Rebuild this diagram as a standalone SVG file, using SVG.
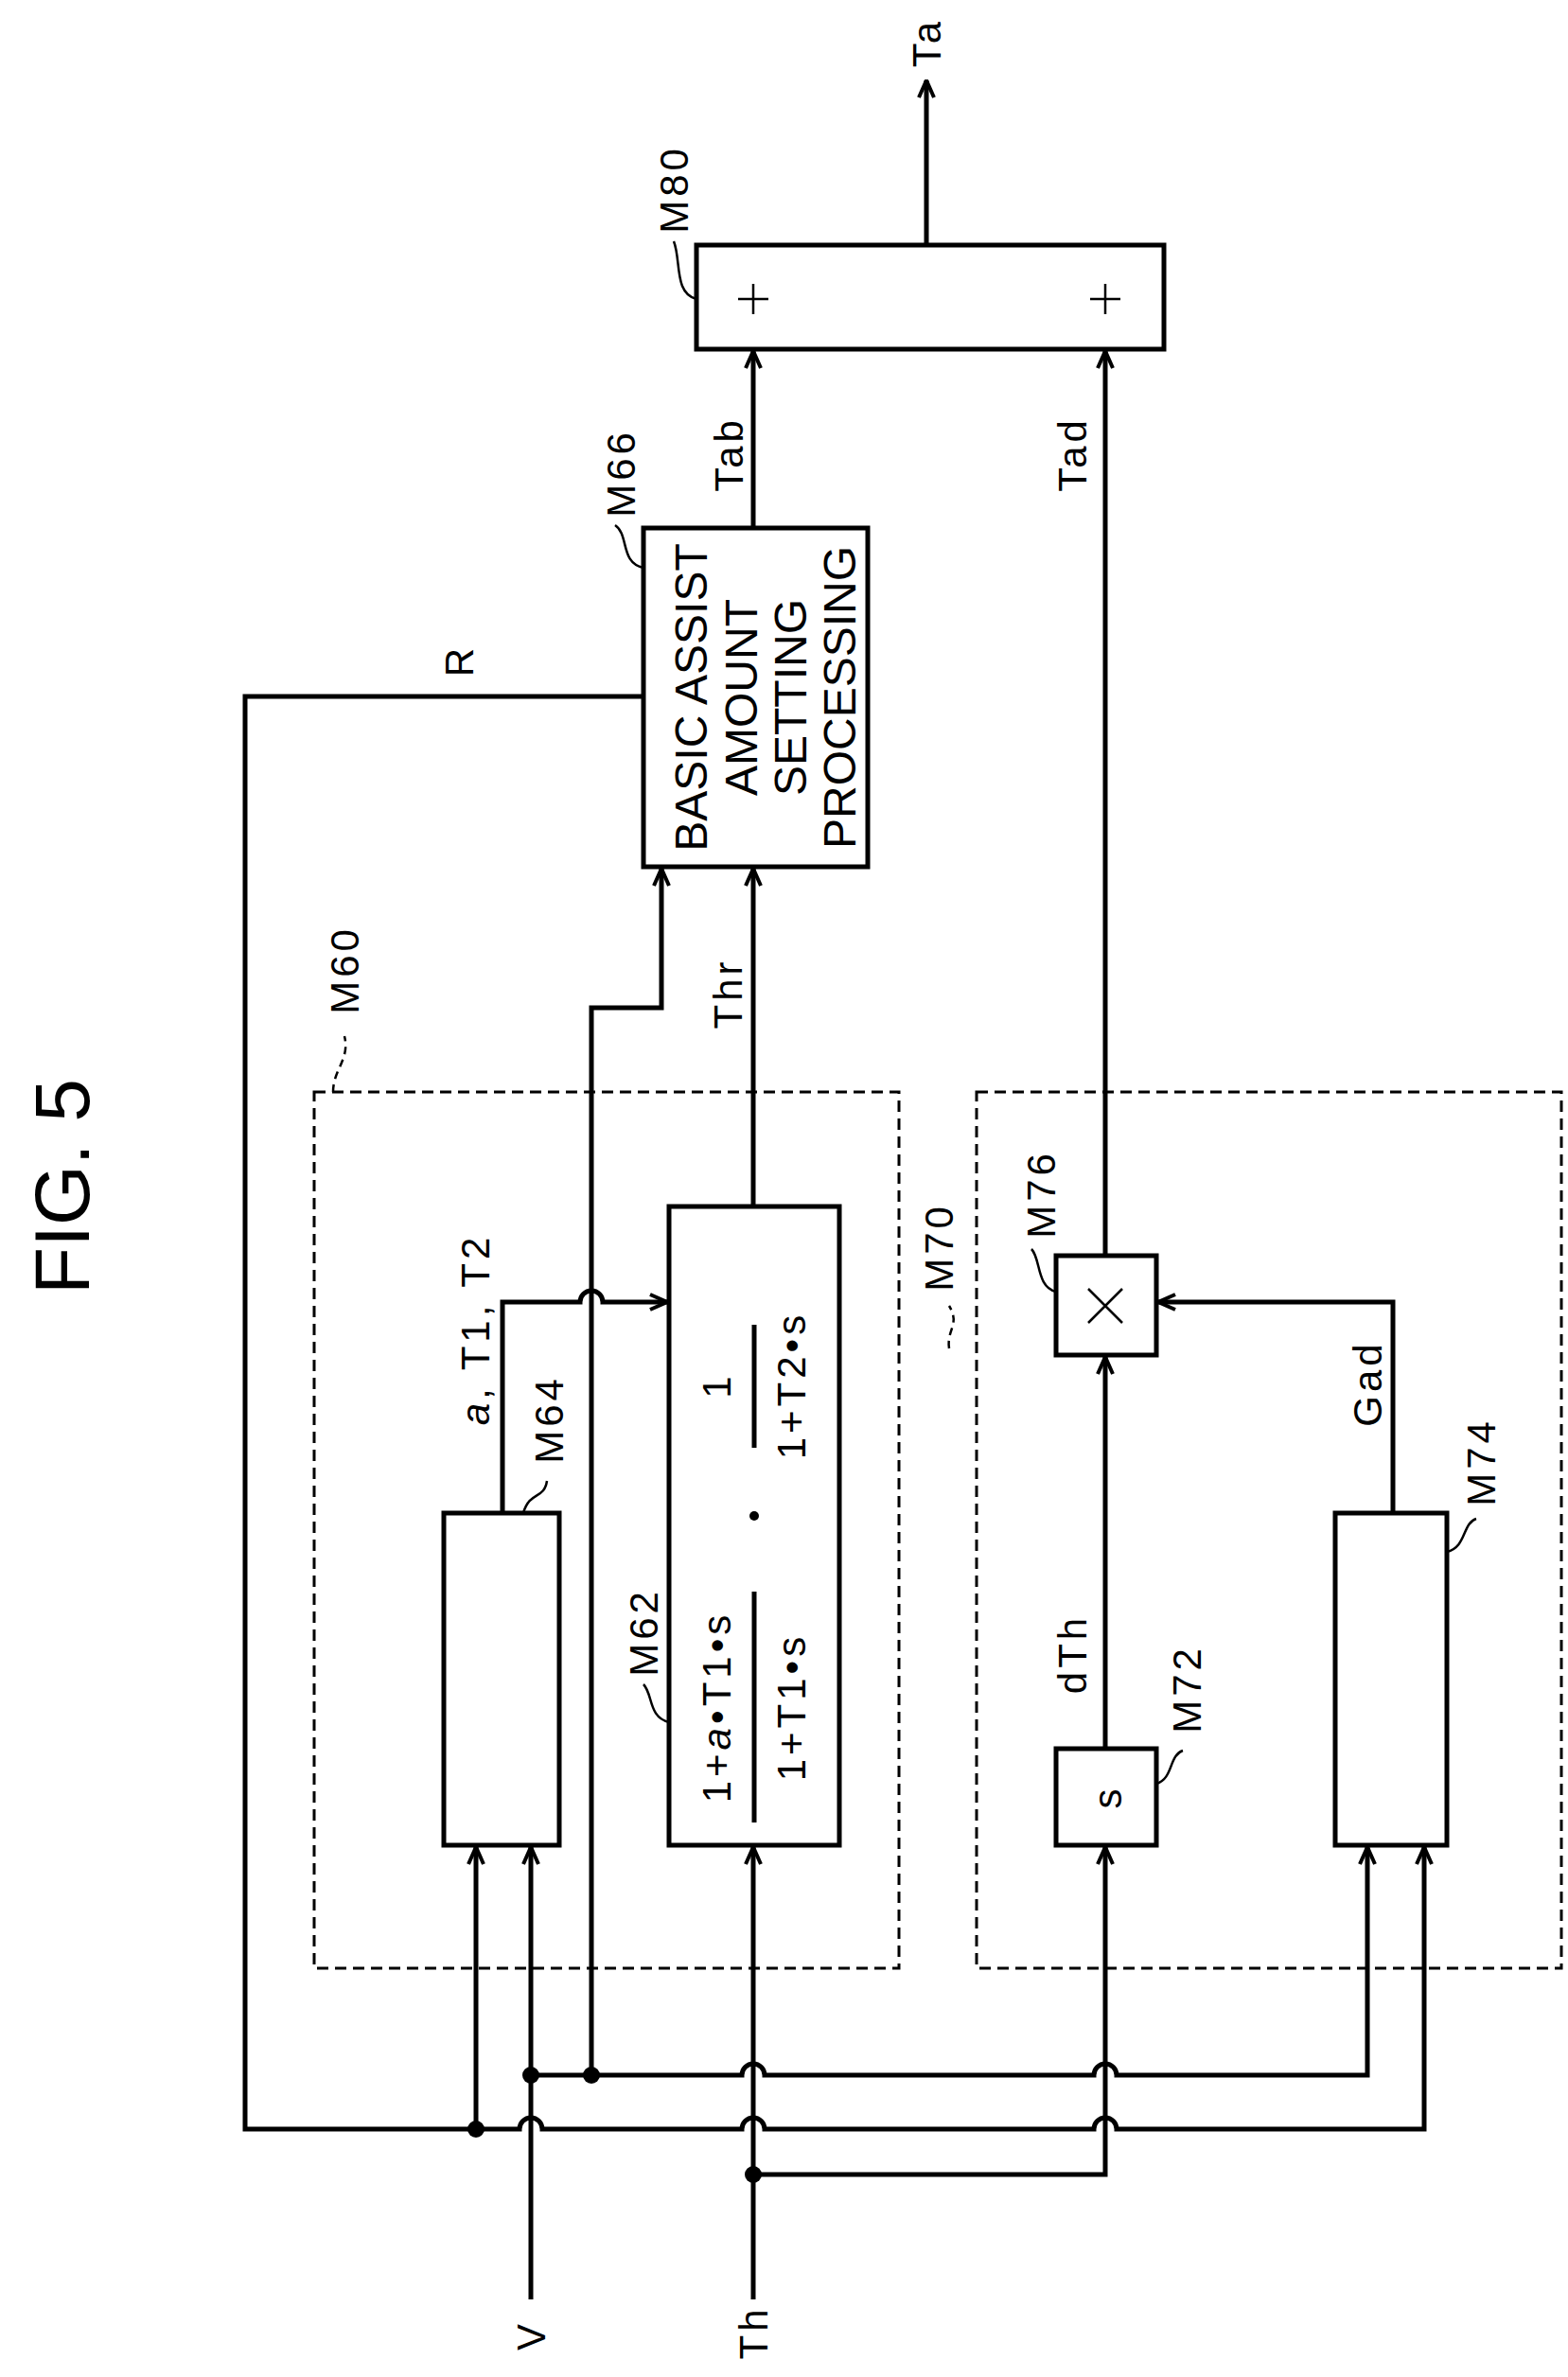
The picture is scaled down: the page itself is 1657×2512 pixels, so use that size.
<svg xmlns="http://www.w3.org/2000/svg" width="1657" height="2512" viewBox="0 0 1657 2512">
<style>
.b{fill:#fff;stroke:#000;stroke-width:5}
.d{fill:none;stroke:#000;stroke-width:3;stroke-dasharray:12 7}
.w{fill:none;stroke:#000;stroke-width:5}
.l{fill:none;stroke:#000;stroke-width:2.5}
.ld{fill:none;stroke:#000;stroke-width:2.5;stroke-dasharray:8 6}
text{font-family:"Liberation Sans",Arial,sans-serif;fill:#000;text-anchor:middle;dominant-baseline:central}
.t{font-size:42px;letter-spacing:4px}
.p{font-size:48px}
</style>
<defs>
<marker id="a" viewBox="0 0 20 20" refX="19" refY="10" markerWidth="20" markerHeight="20" markerUnits="userSpaceOnUse" orient="auto"><path d="M1,2 L19,10 L1,18" fill="none" stroke="#000" stroke-width="4"/></marker>
</defs>
<text transform="translate(65,1254) rotate(-90)" style="font-size:82px">FIG. 5</text>
<g id="connectors">
<path class="w" d="M979,259 V85" marker-end="url(#a)"/>
<path class="w" d="M796,558 V371" marker-end="url(#a)"/>
<path class="w" d="M1168,1327 V371" marker-end="url(#a)"/>
<path class="w" d="M680,736 H259 V2250 H549 a12,12 0 0 1 24,0 H784 a12,12 0 0 1 24,0 H1156 a12,12 0 0 1 24,0 H1505 V1952" marker-end="url(#a)"/>
<path class="w" d="M503,2250 V1952" marker-end="url(#a)"/>
<path class="w" d="M561,2430 V1952" marker-end="url(#a)"/>
<path class="w" d="M561,2193 H784 a12,12 0 0 1 24,0 H1156 a12,12 0 0 1 24,0 H1445 V1952" marker-end="url(#a)"/>
<path class="w" d="M625,2193 V1065 H699 V918" marker-end="url(#a)"/>
<path class="w" d="M796,2430 V1952" marker-end="url(#a)"/>
<path class="w" d="M796,2298 H1168 V1952" marker-end="url(#a)"/>
<path class="w" d="M796,1275 V918" marker-end="url(#a)"/>
<path class="w" d="M531,1599 V1376 H613 a12,12 0 0 1 24,0 H705" marker-end="url(#a)"/>
<path class="w" d="M1168,1848 V1434" marker-end="url(#a)"/>
<path class="w" d="M1472,1599 V1376 H1224" marker-end="url(#a)"/>
<circle cx="503" cy="2250" r="9"/>
<circle cx="561" cy="2193" r="9"/>
<circle cx="625" cy="2193" r="9"/>
<circle cx="796" cy="2298" r="9"/>
<text class="t" transform="translate(979,45) rotate(-90)">Ta</text>
<text class="t" transform="translate(770,480) rotate(-90)">Tab</text>
<text class="t" transform="translate(1133,480) rotate(-90)">Tad</text>
<text class="t" transform="translate(485,698) rotate(-90)">R</text>
<text class="t" transform="translate(769,1050) rotate(-90)">Thr</text>
<text class="t" transform="translate(502,1405) rotate(-90)"><tspan font-style="italic">a</tspan>, T1, T2</text>
<text class="t" transform="translate(1133,1748) rotate(-90)">dTh</text>
<text class="t" transform="translate(1445,1462) rotate(-90)">Gad</text>
<text class="t" transform="translate(561,2468) rotate(-90)">V</text>
<text class="t" transform="translate(796,2465) rotate(-90)">Th</text>
</g>
<g id="M60">
<rect class="d" x="332" y="1154" width="618" height="926"/>
<path class="ld" d="M352,1154 C352,1130 370,1120 364,1095"/>
<text class="t" transform="translate(364,1025) rotate(-90)">M60</text>
</g>
<g id="M70">
<rect class="d" x="1032" y="1154" width="618" height="926"/>
<path class="ld" d="M1003,1425 C1000,1405 1015,1400 1003,1380"/>
<text class="t" transform="translate(992,1318) rotate(-90)">M70</text>
</g>
<g id="M80">
<rect class="b" x="736" y="259" width="494" height="110"/>
<path class="l" d="M780,316 H812 M796,300 V332" stroke-width="3"/>
<path class="l" d="M1152,316 H1184 M1168,300 V332" stroke-width="3"/>
<path class="l" d="M736,316 C712,310 720,275 712,255"/>
<text class="t" transform="translate(712,200) rotate(-90)">M80</text>
</g>
<g id="M66">
<rect class="b" x="680" y="558" width="237" height="358"/>
<text class="p" transform="translate(730,737) rotate(-90)">BASIC ASSIST</text>
<text class="p" transform="translate(783,737) rotate(-90)">AMOUNT</text>
<text class="p" transform="translate(835,737) rotate(-90)">SETTING</text>
<text class="p" transform="translate(887,737) rotate(-90)">PROCESSING</text>
<path class="l" d="M680,600 C655,595 665,565 650,555"/>
<text class="t" transform="translate(656,500) rotate(-90)">M66</text>
</g>
<g id="M64">
<rect class="b" x="469" y="1599" width="122" height="351"/>
<path class="l" d="M553,1599 C560,1575 575,1585 578,1565"/>
<text class="t" transform="translate(580,1500) rotate(-90)">M64</text>
</g>
<g id="M62">
<rect class="b" x="707" y="1275" width="180" height="675"/>
<text class="t" transform="translate(757,1804) rotate(-90)">1+<tspan font-style="italic">a</tspan>•T1•s</text>
<line class="w" x1="797" y1="1682" x2="797" y2="1926"/>
<text class="t" transform="translate(836,1804) rotate(-90)">1+T1•s</text>
<circle cx="797" cy="1602" r="5"/>
<text class="t" transform="translate(757,1464) rotate(-90)">1</text>
<line class="w" x1="797" y1="1400" x2="797" y2="1530"/>
<text class="t" transform="translate(836,1464) rotate(-90)">1+T2•s</text>
<path class="l" d="M707,1820 C685,1815 690,1790 680,1780"/>
<text class="t" transform="translate(680,1725) rotate(-90)">M62</text>
</g>
<g id="M76">
<rect class="b" x="1116" y="1327" width="106" height="105"/>
<path class="l" d="M1150,1362 L1186,1398 M1186,1362 L1150,1398" stroke-width="4"/>
<path class="l" d="M1116,1365 C1095,1360 1100,1330 1090,1320"/>
<text class="t" transform="translate(1100,1262) rotate(-90)">M76</text>
</g>
<g id="M72">
<rect class="b" x="1116" y="1848" width="106" height="102"/>
<text class="t" transform="translate(1170,1899) rotate(-90)">s</text>
<path class="l" d="M1222,1885 C1240,1880 1235,1855 1250,1850"/>
<text class="t" transform="translate(1254,1785) rotate(-90)">M72</text>
</g>
<g id="M74">
<rect class="b" x="1411" y="1599" width="118" height="351"/>
<path class="l" d="M1529,1640 C1550,1635 1545,1610 1560,1605"/>
<text class="t" transform="translate(1565,1545) rotate(-90)">M74</text>
</g>
</svg>
